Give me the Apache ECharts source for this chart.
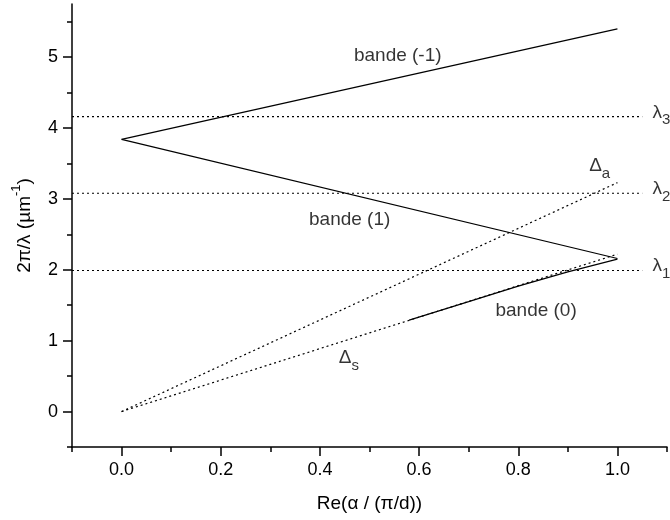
<!DOCTYPE html>
<html>
<head>
<meta charset="utf-8">
<script src="https://cdn.jsdelivr.net/npm/echarts@6/dist/echarts.min.js"></script>
<style>html,body{margin:0;padding:0;background:#fff;}#c{width:670px;height:520px;}</style>
</head>
<body>
<div id="c"></div>
<script>
// ---- data ----
const xMajorTicks = [0, 0.2, 0.4, 0.6, 0.8, 1.0];
const xMinorTicks = [-0.1, 0.1, 0.3, 0.5, 0.7, 0.9, 1.1];
const yMajorTicks = [0, 1, 2, 3, 4, 5];
const yMinorTicks = [-0.5, 0.5, 1.5, 2.5, 3.5, 4.5, 5.5];

const bandeM1X = [0, 1];
const bandeM1Y = [3.84, 5.40];
const bande1X = [0, 1];
const bande1Y = [3.84, 2.16];
const bande0X = [0.58, 0.7, 0.8, 0.9, 1.0];
const bande0Y = [1.29, 1.55, 1.77, 1.97, 2.15];
const deltaSX = [0, 1];
const deltaSY = [0, 2.22];
const deltaAX = [0, 1];
const deltaAY = [0, 3.23];
const lambdaLevels = [1.99, 3.08, 4.16];
const lambdaNames = ['λ{sub|1}', 'λ{sub|2}', 'λ{sub|3}'];
const lambdaXRange = [-0.1, 1.05];

const annotX = [0.557, 0.46, 0.836, 0.943, 0.438, 1.071, 1.071, 1.071];
const annotY = [5.01, 2.70, 1.42, 3.42, 0.72, 2.01, 3.10, 4.18];
const annotText = ['bande (-1)', 'bande (1)', 'bande (0)', 'Δ{sub|a}', 'Δ{sub|s}'].concat(lambdaNames);
const annotLeftAligned = [false, false, false, true, true, true, true, true];

// ---- build ----
const FONT = '"Liberation Sans", Arial, sans-serif';
const zip = (xs, ys) => xs.map((x, i) => [x, ys[i]]);

const solid = {color: '#000', width: 1.2, type: 'solid'};
const dotted = {color: '#000', width: 1.2, type: [2, 3]};

function lineSeries(data, style) {
  return {type: 'line', xAxisIndex: 0, yAxisIndex: 0, data: data, symbol: 'none',
          lineStyle: style, silent: true, animation: false, z: 3};
}

const series = [
  lineSeries(zip(bandeM1X, bandeM1Y), solid),
  lineSeries(zip(bande1X, bande1Y), solid),
  lineSeries(zip(bande0X, bande0Y), solid),
  lineSeries(zip(deltaSX, deltaSY), dotted),
  lineSeries(zip(deltaAX, deltaAY), dotted)
];
lambdaLevels.forEach(l => series.push(lineSeries(lambdaXRange.map(x => [x, l]), dotted)));

const rich = {
  m: {fontFamily: FONT, fontSize: 19, color: '#000', lineHeight: 20, verticalAlign: 'top'},
  sub: {fontFamily: FONT, fontSize: 15, color: '#000', lineHeight: 25, verticalAlign: 'bottom'}
};

series.push({
  type: 'scatter', xAxisIndex: 0, yAxisIndex: 0, symbolSize: 0, silent: true, animation: false,
  data: annotX.map((x, i) => ({
    value: [x, annotY[i]],
    label: {
      show: true,
      position: annotLeftAligned[i] ? 'right' : 'inside',
      distance: 0,
      formatter: annotText[i].indexOf('{') >= 0 ? annotText[i].replace(/^([^{]+)/, '{m|$1}') : '{m|' + annotText[i] + '}',
      rich: rich
    }
  }))
});

const tickLabel = {fontFamily: FONT, fontSize: 18, color: '#000'};

const option = {
  backgroundColor: '#fff',
  animation: false,
  grid: {left: 72, right: 3, top: 4, bottom: 73, containLabel: false},
  xAxis: [
    {
      type: 'value', min: -0.1, max: 1.1, interval: 0.1,
      position: 'bottom',
      axisLine: {show: true, onZero: false, lineStyle: {color: '#000', width: 1.5}},
      axisTick: {show: true, inside: false, length: 9, customValues: xMajorTicks, lineStyle: {color: '#000', width: 1.5}},
      axisLabel: {show: true, margin: 14, customValues: xMajorTicks, formatter: v => v.toFixed(1), ...tickLabel},
      splitLine: {show: false},
      name: 'Re(α / (π/d))', nameLocation: 'middle', nameGap: 47,
      nameTextStyle: {fontFamily: FONT, fontSize: 19, color: '#000'}
    },
    {
      type: 'value', min: -0.1, max: 1.1, interval: 0.1,
      position: 'bottom',
      axisLine: {show: false, onZero: false},
      axisTick: {show: true, inside: false, length: 5, customValues: xMinorTicks, lineStyle: {color: '#000', width: 1.5}},
      axisLabel: {show: false},
      splitLine: {show: false}
    }
  ],
  yAxis: [
    {
      type: 'value', min: -0.5, max: 5.75, interval: 0.5,
      position: 'left',
      axisLine: {show: true, onZero: false, lineStyle: {color: '#000', width: 1.5}},
      axisTick: {show: true, inside: false, length: 9, customValues: yMajorTicks, lineStyle: {color: '#000', width: 1.5}},
      axisLabel: {show: true, margin: 14, customValues: yMajorTicks, formatter: v => String(Math.round(v)), ...tickLabel},
      splitLine: {show: false},
      name: '{m|2π/λ (µm}{sup|-1}{m|)}', nameLocation: 'middle', nameGap: 38, nameRotate: 90,
      nameTextStyle: {
        fontFamily: FONT, fontSize: 19, color: '#000',
        rich: {
          m: {fontFamily: FONT, fontSize: 19, color: '#000', lineHeight: 24, verticalAlign: 'bottom'},
          sup: {fontFamily: FONT, fontSize: 13, color: '#000', lineHeight: 24, verticalAlign: 'top'}
        }
      }
    },
    {
      type: 'value', min: -0.5, max: 5.75, interval: 0.5,
      position: 'left',
      axisLine: {show: false, onZero: false},
      axisTick: {show: true, inside: false, length: 5, customValues: yMinorTicks, lineStyle: {color: '#000', width: 1.5}},
      axisLabel: {show: false},
      splitLine: {show: false}
    }
  ],
  series: series
};

const chart = echarts.init(document.getElementById('c'), null, {renderer: 'canvas'});
chart.setOption(option);
</script>
</body>
</html>
